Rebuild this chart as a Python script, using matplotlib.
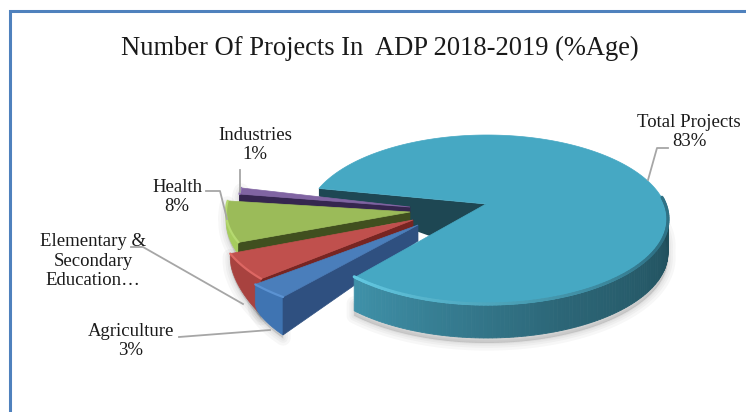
import numpy as np
import matplotlib
matplotlib.use("Agg")
import matplotlib.pyplot as plt
from matplotlib.colors import to_rgb

plt.rcParams['font.family'] = ['Liberation Serif', 'DejaVu Serif']

# Dados do grafico
categorias = ['Agriculture', 'Elementary &\nSecondary\nEducation…', 'Health', 'Industries', 'Total Projects']
percentuais = [3, 5, 8, 1, 83]
mostrar_pct = [True, False, True, True, True]

ANGULO_INICIAL = 230.0  # fatias seguem no sentido horario a partir daqui

# apice, centro da elipse, semi-eixos, altura na borda, altura no apice, altura na esquerda
geom = {
    'Agriculture': dict(ap=(418, 225), ec=(418, 225), a=210, b=94, h=38, h_ap=16, h_esq=20),
    'Elementary &\nSecondary\nEducation…': dict(ap=(413, 220), ec=(413, 220), a=196, b=93, h=36, h_ap=7, h_esq=6),
    'Health': dict(ap=(410, 212), ec=(410, 212), a=184, b=84, h=12, h_ap=8, h_esq=3),
    'Industries': dict(ap=(410, 207), ec=(410, 207), a=172, b=98, h=8, h_ap=6, h_esq=5),
}
cores = {
    'Agriculture': dict(topo='#4a7ebb', parede='#3f74b2', corte='#2f5080', brilho='#5b92d2'),
    'Elementary &\nSecondary\nEducation…': dict(topo='#c0504d', parede='#a8423f', corte='#772522', brilho='#dd6763'),
    'Health': dict(topo='#9bbb59', parede='#a6cc5e', corte='#404f1f', brilho='#b5d970'),
    'Industries': dict(topo='#8064a2', parede='#6f5590', corte='#35264f', brilho='#9277b5'),
}

fig = plt.figure(figsize=(7.46, 4.12), dpi=100)
ax = fig.add_axes([0, 0, 1, 1])
ax.set_xlim(0, 746)
ax.set_ylim(412, 0)
ax.axis('off')


def borda(theta, ap, ec, a, b):
    # raio saindo do apice ate a elipse, o apice pode estar fora do centro
    theta = np.radians(np.atleast_1d(theta))
    dx, dy = a * np.cos(theta), -b * np.sin(theta)
    ox, oy = ap[0] - ec[0], ap[1] - ec[1]
    A = (dx / a) ** 2 + (dy / b) ** 2
    B = 2 * (ox * dx / a ** 2 + oy * dy / b ** 2)
    C = (ox / a) ** 2 + (oy / b) ** 2 - 1
    s = (-B + np.sqrt(B ** 2 - 4 * A * C)) / (2 * A)
    return ap[0] + s * dx, ap[1] + s * dy


def mistura(c1, c2, f):
    return tuple((1 - f) * x + f * y for x, y in zip(to_rgb(c1), to_rgb(c2)))


def sombra(xs, ys, dy=7):
    for lw in (11, 7, 4, 1.5):
        ax.fill(xs, np.asarray(ys) + dy, color='black', alpha=0.03, lw=lw, joinstyle='round', zorder=1)


# limites angulares de cada fatia
limites = {}
ang = ANGULO_INICIAL
for nome, p in zip(categorias, percentuais):
    limites[nome] = (ang, ang - p * 3.6)
    ang -= p * 3.6

# fatia principal
ap_t = (486, 204)
ec_t = (487, 220)
a_t, b_t = 181, 85
h_t = 33
t_ini, t_fim = limites['Total Projects']
thetas = np.linspace(t_ini, t_fim, 300)
xr, yr = borda(thetas, ap_t, ec_t, a_t, b_t)

# sombra sob a fatia principal
frente = np.linspace(t_fim, 4, 120)
xf, yf = borda(frente, ap_t, ec_t, a_t, b_t)
sombra(np.r_[xf, xf[::-1]], np.r_[yf + h_t, yf[::-1] + h_t - 12], dy=5)

# face interna escura da fatia principal (fica atras das outras fatias)
ax.fill([xr[0], ap_t[0], ap_t[0], xr[0]], [yr[0], ap_t[1], ap_t[1] + 52, yr[0] + 8],
        color='#1e4753', lw=0, zorder=2)

# fatias destacadas, de tras para frente
for ordem, nome in enumerate(['Industries', 'Health', 'Elementary &\nSecondary\nEducation…', 'Agriculture']):
    g, c = geom[nome], cores[nome]
    z = 3 + ordem
    t1, t2 = limites[nome]
    th = np.linspace(t2, t1, 30)
    x, y = borda(th, g['ap'], g['ec'], g['a'], g['b'])
    # altura cresce em curva para a parede ficar arredondada
    alt = g['h_esq'] + (g['h'] - g['h_esq']) * np.sqrt(np.linspace(0, 1, len(x)))
    sombra(np.r_[x, x[::-1]], np.r_[y, (y + alt)[::-1]], dy=3)
    # parede externa
    ax.fill(np.r_[x, x[::-1]], np.r_[y, (y + alt)[::-1]], color=c['parede'], lw=0.5, zorder=z)
    # corte voltado para a frente
    ax.fill([g['ap'][0], x[-1], x[-1], g['ap'][0]],
            [g['ap'][1], y[-1], y[-1] + g['h'], g['ap'][1] + g['h_ap']],
            color=c['corte'], lw=0.5, zorder=z)
    # topo
    ax.fill(np.r_[g['ap'][0], x], np.r_[g['ap'][1], y], color=c['topo'], lw=0.5, zorder=z)
    ax.plot(x, y, color=c['brilho'], lw=1.6, solid_capstyle='round', zorder=z)

# parede externa da fatia principal, escurecendo para a direita
z_t = 8
n = len(frente)
for i in range(n - 1):
    f = i / (n - 2)
    cor = mistura('#3f91a9', '#2c6677', f / 0.45) if f < 0.45 else mistura('#2c6677', '#1e4a56', (f - 0.45) / 0.55)
    ax.fill([xf[i], xf[i + 1], xf[i + 1], xf[i]],
            [yf[i], yf[i + 1], yf[i + 1] + h_t, yf[i] + h_t],
            color=cor, lw=0.6, zorder=z_t)

# topo da fatia principal
ax.fill(np.r_[ap_t[0], xr], np.r_[ap_t[1], yr], color='#46a8c3', lw=0.5, zorder=z_t + 1)

# friso claro na borda frontal
for i in range(n - 1):
    f = i / (n - 2)
    cor = mistura('#63c9e2', '#2f7286', min(f / 0.75, 1))
    ax.plot(xf[i:i + 2], yf[i:i + 2] - 1, color=cor, lw=2.2, solid_capstyle='round', zorder=z_t + 2)

# moldura
ax.plot([746, 9.5, 9.5], [11, 11, 412], color='#4f81bd', lw=2.2, solid_joinstyle='miter', zorder=10)

ax.text(380, 48, 'Number Of Projects In  ADP 2018-2019 (%Age)', fontsize=19.1, ha='center', va='center', color='#1a1a1a')

# rotulos
pos_rotulo = {
    'Total Projects': (689, 132),
    'Industries': (255, 145),
    'Health': (177, 197),
    'Elementary &\nSecondary\nEducation…': (93, 261),
    'Agriculture': (131, 341),
}
for nome, p, mostra in zip(categorias, percentuais, mostrar_pct):
    texto = nome + (f'\n{p}%' if mostra else '')
    ax.text(*pos_rotulo[nome], texto, fontsize=13.5, ha='center', va='center',
            linespacing=1.22, color='#1a1a1a', zorder=11)

# linhas de chamada
chamadas = [
    ([648, 657, 668], [180, 148, 148]),
    ([206, 220, 227], [191, 191, 219]),
    ([240, 240], [170, 192]),
    ([131, 143, 243], [247, 247, 304]),
    ([179, 270], [337, 330]),
]
for xs, ys in chamadas:
    ax.plot(xs, ys, color='#a6a6a6', lw=1.3, zorder=9)

fig.savefig('out.png', dpi=100)
